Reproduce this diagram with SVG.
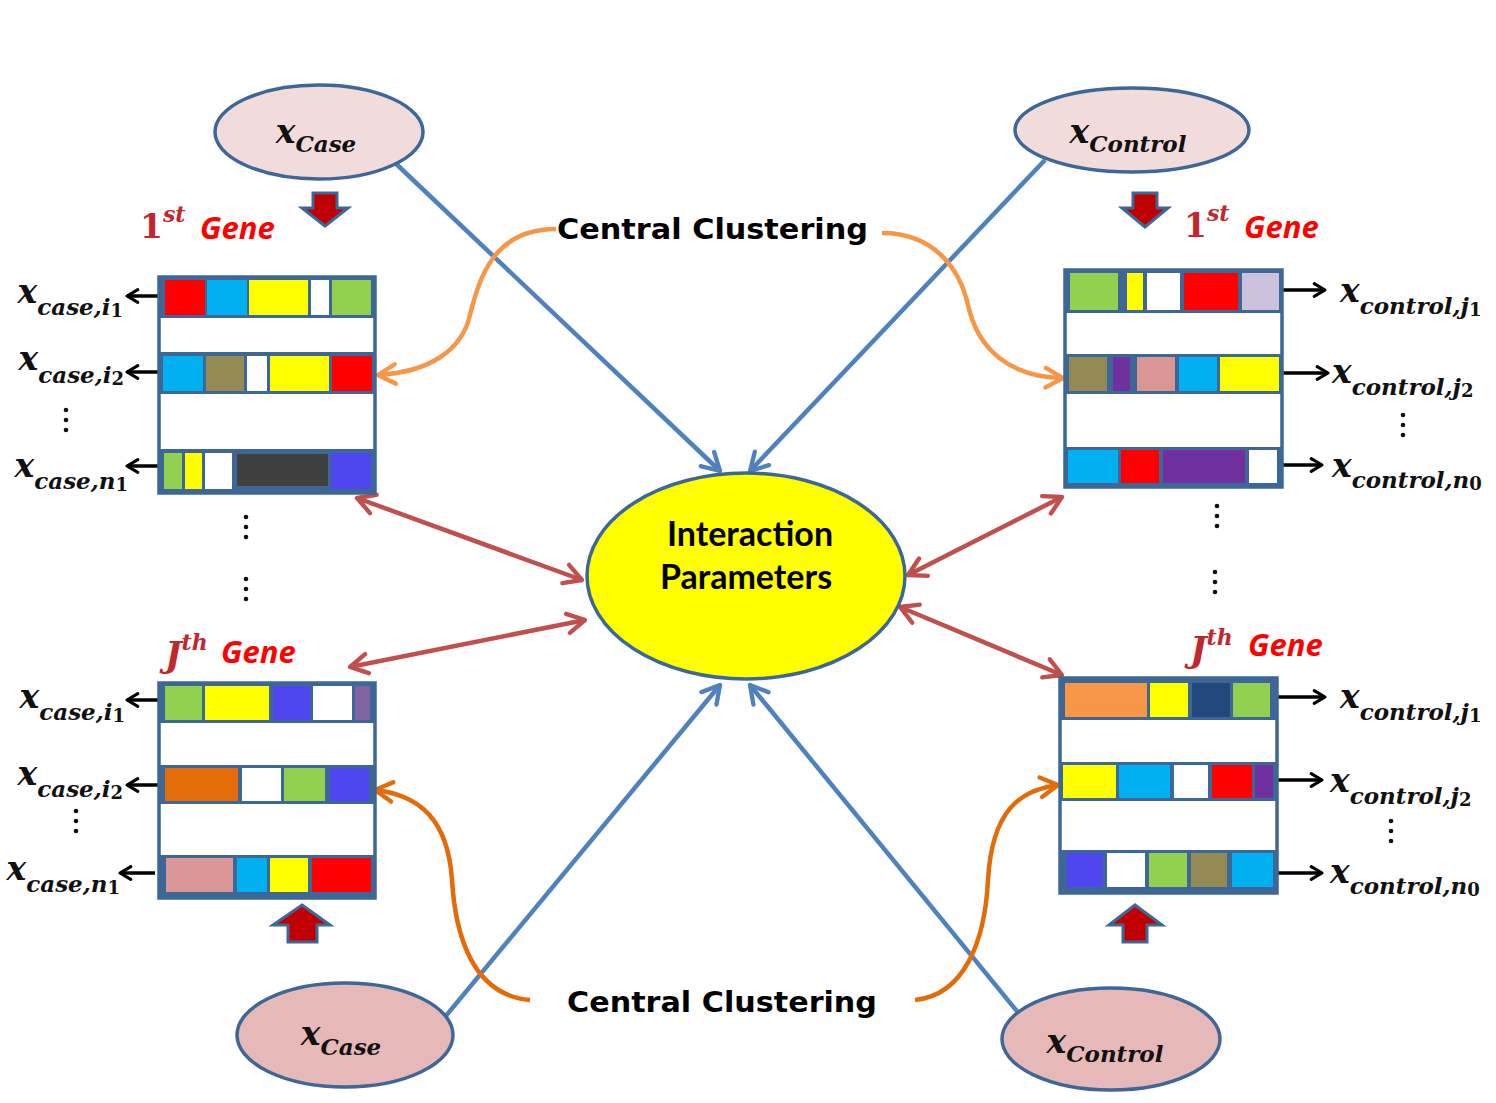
<svg xmlns="http://www.w3.org/2000/svg" width="1496" height="1103" viewBox="0 0 1496 1103">
<style>
.bg{fill:#ffffff}
.box{fill:#ffffff;stroke:#3d6797;stroke-width:3.5}
.band{fill:#3d6797}
.lab{font-family:"DejaVu Serif",serif;font-weight:bold;font-style:italic;fill:#111}
.bx{font-size:33px}
.sb{font-size:23px}
.sb2{font-size:18px;font-style:normal}
.gene{font-family:"Open Sans","Liberation Sans",sans-serif;font-weight:bold;font-style:italic;font-size:31px;fill:#ff0000}
.ord{font-family:"DejaVu Serif",serif;font-weight:bold;fill:#c0282d}
.cc{font-family:"DejaVu Sans",sans-serif;font-weight:bold;font-size:29px;fill:#000}
.ip{font-family:"Lato","Open Sans",sans-serif;font-weight:bold;font-size:34px;fill:#000}
.ell{stroke:#3d6797;stroke-width:3.5}
.blue{stroke:#4f81bd;stroke-width:4.5;fill:none}
.red{stroke:#c0504d;stroke-width:4.5;fill:none}
.or1{stroke:#f79646;stroke-width:4.5;fill:none}
.or2{stroke:#e36c09;stroke-width:4.5;fill:none}
.blk{stroke:#000;stroke-width:3.5;fill:none}
.barr{fill:#c00000;stroke:#3d6797;stroke-width:3}
.dot{fill:#111}
</style>
<defs>
<marker id="mb" viewBox="0 0 24 24" refX="20" refY="12" markerWidth="26" markerHeight="26" markerUnits="userSpaceOnUse" orient="auto-start-reverse"><path d="M4,3 L20,12 L4,21" fill="none" stroke="#4f81bd" stroke-width="4" stroke-linecap="round" stroke-linejoin="round"/></marker>
<marker id="mr" viewBox="0 0 24 24" refX="20" refY="12" markerWidth="26" markerHeight="26" markerUnits="userSpaceOnUse" orient="auto-start-reverse"><path d="M4,3 L20,12 L4,21" fill="none" stroke="#c0504d" stroke-width="4" stroke-linecap="round" stroke-linejoin="round"/></marker>
<marker id="mo1" viewBox="0 0 24 24" refX="20" refY="12" markerWidth="26" markerHeight="26" markerUnits="userSpaceOnUse" orient="auto"><path d="M4,3 L20,12 L4,21" fill="none" stroke="#f79646" stroke-width="4" stroke-linecap="round" stroke-linejoin="round"/></marker>
<marker id="mo2" viewBox="0 0 24 24" refX="20" refY="12" markerWidth="26" markerHeight="26" markerUnits="userSpaceOnUse" orient="auto"><path d="M4,3 L20,12 L4,21" fill="none" stroke="#e36c09" stroke-width="4" stroke-linecap="round" stroke-linejoin="round"/></marker>
<marker id="mk" viewBox="0 0 20 20" refX="16" refY="10" markerWidth="18" markerHeight="18" markerUnits="userSpaceOnUse" orient="auto"><path d="M4,3 L16,10 L4,17" fill="none" stroke="#000" stroke-width="3.5" stroke-linecap="round" stroke-linejoin="round"/></marker>
</defs>
<rect class="bg" x="0" y="0" width="1496" height="1103"/>

<g id="connectors">
  <line class="blue" x1="392" y1="160" x2="720" y2="471" marker-end="url(#mb)"/>
  <line class="blue" x1="1045" y1="160" x2="750" y2="471" marker-end="url(#mb)"/>
  <line class="blue" x1="445" y1="1017" x2="720" y2="685" marker-end="url(#mb)"/>
  <line class="blue" x1="1020" y1="1015" x2="750" y2="685" marker-end="url(#mb)"/>
  <line class="red" x1="357" y1="498" x2="582" y2="580" marker-start="url(#mr)" marker-end="url(#mr)"/>
  <line class="red" x1="350" y1="667" x2="585" y2="620" marker-start="url(#mr)" marker-end="url(#mr)"/>
  <line class="red" x1="1062" y1="497" x2="908" y2="575" marker-start="url(#mr)" marker-end="url(#mr)"/>
  <line class="red" x1="900" y1="607" x2="1062" y2="675" marker-start="url(#mr)" marker-end="url(#mr)"/>
  <path class="or1" d="M556,229 C495,229 480,275 470,315 C462,350 430,372 378,375" marker-end="url(#mo1)"/>
  <path class="or1" d="M882,233 C935,233 960,270 968,305 C978,350 1010,377 1063,378" marker-end="url(#mo1)"/>
  <path class="or2" d="M530,1000 C470,995 455,930 452,880 C448,820 420,795 375,790" marker-end="url(#mo2)"/>
  <path class="or2" d="M915,1000 C965,995 985,940 988,880 C992,810 1020,790 1058,785" marker-end="url(#mo2)"/>
  <line class="blk" x1="160" y1="296" x2="127" y2="296" marker-end="url(#mk)"/>
  <line class="blk" x1="160" y1="372" x2="127" y2="372" marker-end="url(#mk)"/>
  <line class="blk" x1="160" y1="466" x2="127" y2="466" marker-end="url(#mk)"/>
  <line class="blk" x1="160" y1="700" x2="127" y2="700" marker-end="url(#mk)"/>
  <line class="blk" x1="160" y1="785" x2="127" y2="785" marker-end="url(#mk)"/>
  <line class="blk" x1="155" y1="873" x2="120" y2="873" marker-end="url(#mk)"/>
  <line class="blk" x1="1282" y1="290" x2="1325" y2="290" marker-end="url(#mk)"/>
  <line class="blk" x1="1282" y1="373" x2="1328" y2="373" marker-end="url(#mk)"/>
  <line class="blk" x1="1277" y1="465" x2="1322" y2="465" marker-end="url(#mk)"/>
  <line class="blk" x1="1277" y1="697" x2="1325" y2="697" marker-end="url(#mk)"/>
  <line class="blk" x1="1277" y1="780" x2="1322" y2="780" marker-end="url(#mk)"/>
  <line class="blk" x1="1277" y1="873" x2="1322" y2="873" marker-end="url(#mk)"/>
  <polygon class="barr" points="313,193 337,193 337,208 348,208 325,226 302,208 313,208"/>
  <polygon class="barr" points="1133,193 1157,193 1157,208 1168,208 1145,227 1122,208 1133,208"/>
  <polygon class="barr" points="302,905 330,925 317,925 317,942 288,942 288,925 273,925"/>
  <polygon class="barr" points="1135,905 1162,925 1147,925 1147,942 1123,942 1123,925 1109,925"/>
</g>

<g id="case-top">
  <ellipse class="ell" cx="319" cy="132" rx="104" ry="47" fill="#f2dcdb"/>
  <text class="lab" x="316" y="143" text-anchor="middle"><tspan class="bx">x</tspan><tspan class="sb" dy="9">Case</tspan></text>
</g>
<g id="control-top">
  <ellipse class="ell" cx="1132" cy="130" rx="117" ry="42" fill="#f2dcdb"/>
  <text class="lab" x="1128" y="143" text-anchor="middle"><tspan class="bx">x</tspan><tspan class="sb" dy="9">Control</tspan></text>
</g>
<g id="case-bottom">
  <ellipse class="ell" cx="345" cy="1035" rx="108" ry="52" fill="#e6b9b8"/>
  <text class="lab" x="341" y="1045" text-anchor="middle"><tspan class="bx">x</tspan><tspan class="sb" dy="10">Case</tspan></text>
</g>
<g id="control-bottom">
  <ellipse class="ell" cx="1111" cy="1039" rx="109" ry="51" fill="#e6b9b8"/>
  <text class="lab" x="1105" y="1053" text-anchor="middle"><tspan class="bx">x</tspan><tspan class="sb" dy="9">Control</tspan></text>
</g>
<g id="interaction">
  <ellipse class="ell" cx="746" cy="576" rx="159" ry="103" fill="#ffff00"/>
  <text class="ip" x="750" y="546" text-anchor="middle">Interaction</text>
  <text class="ip" x="746" y="589" text-anchor="middle">Parameters</text>
</g>

<g id="clustering-labels">
  <text class="cc" x="557" y="239" textLength="311" lengthAdjust="spacingAndGlyphs">Central Clustering</text>
  <text class="cc" x="567" y="1012" textLength="310" lengthAdjust="spacingAndGlyphs">Central Clustering</text>
</g>

<g id="gene-labels">
  <text x="140" y="238"><tspan class="ord" font-size="33">1</tspan><tspan class="ord" font-size="22" font-style="italic" dy="-16">st</tspan></text>
  <text class="gene" x="200" y="239">Gene</text>
  <text x="1184" y="237"><tspan class="ord" font-size="33">1</tspan><tspan class="ord" font-size="22" font-style="italic" dy="-16">st</tspan></text>
  <text class="gene" x="1244" y="238">Gene</text>
  <text x="165" y="667"><tspan class="ord" font-size="35" font-style="italic">J</tspan><tspan class="ord" font-size="22" font-style="italic" dy="-17">th</tspan></text>
  <text class="gene" x="221" y="663">Gene</text>
  <text x="1190" y="662"><tspan class="ord" font-size="35" font-style="italic">J</tspan><tspan class="ord" font-size="22" font-style="italic" dy="-17">th</tspan></text>
  <text class="gene" x="1248" y="656">Gene</text>
</g>

<g id="gene1-case">
  <rect class="box" x="159" y="277" width="216" height="216"/>
  <rect class="band" x="159" y="276" width="216" height="42"/>
  <rect fill="#ff0000" x="165" y="280" width="40" height="35"/>
  <rect fill="#00b0f0" x="207" y="280" width="40" height="35"/>
  <rect fill="#ffff00" x="249" y="280" width="59" height="35"/>
  <rect fill="#ffffff" x="311" y="280" width="18" height="35"/>
  <rect fill="#92d050" x="332" y="280" width="39" height="35"/>
  <rect class="band" x="159" y="352" width="216" height="42"/>
  <rect fill="#00b0f0" x="163" y="356" width="40" height="35"/>
  <rect fill="#948a54" x="206" y="356" width="38" height="35"/>
  <rect fill="#ffffff" x="247" y="356" width="20" height="35"/>
  <rect fill="#ffff00" x="270" y="356" width="59" height="35"/>
  <rect fill="#ff0000" x="332" y="356" width="40" height="35"/>
  <rect class="band" x="159" y="449" width="216" height="44"/>
  <rect fill="#92d050" x="164" y="453" width="18" height="36"/>
  <rect fill="#ffff00" x="185" y="453" width="17" height="36"/>
  <rect fill="#ffffff" x="205" y="453" width="27" height="36"/>
  <rect fill="#404040" x="237" y="454" width="91" height="32"/>
  <rect fill="#4f46f0" x="331" y="453" width="40" height="36"/>
  <text class="lab" x="123" y="303" text-anchor="end"><tspan class="bx">x</tspan><tspan class="sb" dy="12">case,i</tspan><tspan class="sb2" dy="2">1</tspan></text>
  <text class="lab" x="124" y="370" text-anchor="end"><tspan class="bx">x</tspan><tspan class="sb" dy="13">case,i</tspan><tspan class="sb2" dy="2">2</tspan></text>
  <text class="lab" x="128" y="477" text-anchor="end"><tspan class="bx">x</tspan><tspan class="sb" dy="12">case,n</tspan><tspan class="sb2" dy="2">1</tspan></text>
</g>

<g id="gene1-control">
  <rect class="box" x="1065" y="270" width="217" height="217"/>
  <rect class="band" x="1065" y="270" width="217" height="43"/>
  <rect fill="#92d050" x="1070" y="273" width="48" height="37"/>
  <rect fill="#ffff00" x="1127" y="273" width="16" height="37"/>
  <rect fill="#ffffff" x="1147" y="273" width="33" height="37"/>
  <rect fill="#ff0000" x="1184" y="273" width="54" height="37"/>
  <rect fill="#ccc0da" x="1242" y="273" width="37" height="37"/>
  <rect class="band" x="1065" y="354" width="217" height="40"/>
  <rect fill="#948a54" x="1069" y="357" width="38" height="34"/>
  <rect fill="#7030a0" x="1113" y="357" width="17" height="34"/>
  <rect fill="#da9694" x="1137" y="357" width="38" height="34"/>
  <rect fill="#00b0f0" x="1179" y="357" width="38" height="34"/>
  <rect fill="#ffff00" x="1220" y="357" width="59" height="34"/>
  <rect class="band" x="1065" y="447" width="217" height="40"/>
  <rect fill="#00b0f0" x="1068" y="450" width="50" height="33"/>
  <rect fill="#ff0000" x="1121" y="450" width="38" height="33"/>
  <rect fill="#7030a0" x="1163" y="450" width="82" height="33"/>
  <rect fill="#ffffff" x="1249" y="450" width="28" height="33"/>
  <text class="lab" x="1340" y="302"><tspan class="bx">x</tspan><tspan class="sb" dy="12">control,j</tspan><tspan class="sb2" dy="2">1</tspan></text>
  <text class="lab" x="1332" y="383"><tspan class="bx">x</tspan><tspan class="sb" dy="12">control,j</tspan><tspan class="sb2" dy="2">2</tspan></text>
  <text class="lab" x="1332" y="477"><tspan class="bx">x</tspan><tspan class="sb" dy="11">control,n</tspan><tspan class="sb2" dy="2">0</tspan></text>
</g>

<g id="geneJ-case">
  <rect class="box" x="159" y="683" width="216" height="215"/>
  <rect class="band" x="159" y="683" width="216" height="40"/>
  <rect fill="#92d050" x="165" y="686" width="37" height="34"/>
  <rect fill="#ffff00" x="205" y="686" width="64" height="34"/>
  <rect fill="#4f46f0" x="273" y="686" width="37" height="34"/>
  <rect fill="#ffffff" x="313" y="686" width="39" height="34"/>
  <rect fill="#8064a2" x="355" y="686" width="15" height="34"/>
  <rect class="band" x="159" y="765" width="216" height="39"/>
  <rect fill="#e36c09" x="165" y="768" width="73" height="33"/>
  <rect fill="#ffffff" x="242" y="768" width="39" height="33"/>
  <rect fill="#92d050" x="284" y="768" width="41" height="33"/>
  <rect fill="#4f46f0" x="330" y="768" width="39" height="33"/>
  <rect class="band" x="159" y="855" width="216" height="43"/>
  <rect fill="#da9694" x="166" y="858" width="67" height="34"/>
  <rect fill="#00b0f0" x="237" y="858" width="30" height="34"/>
  <rect fill="#ffff00" x="270" y="858" width="38" height="34"/>
  <rect fill="#ff0000" x="312" y="858" width="59" height="34"/>
  <text class="lab" x="125" y="708" text-anchor="end"><tspan class="bx">x</tspan><tspan class="sb" dy="12">case,i</tspan><tspan class="sb2" dy="2">1</tspan></text>
  <text class="lab" x="123" y="785" text-anchor="end"><tspan class="bx">x</tspan><tspan class="sb" dy="12">case,i</tspan><tspan class="sb2" dy="2">2</tspan></text>
  <text class="lab" x="120" y="880" text-anchor="end"><tspan class="bx">x</tspan><tspan class="sb" dy="12">case,n</tspan><tspan class="sb2" dy="2">1</tspan></text>
</g>

<g id="geneJ-control">
  <rect class="box" x="1060" y="678" width="217" height="215"/>
  <rect class="band" x="1060" y="679" width="217" height="41"/>
  <rect fill="#f79646" x="1065" y="683" width="82" height="34"/>
  <rect fill="#ffff00" x="1150" y="683" width="38" height="34"/>
  <rect fill="#1f497d" x="1192" y="683" width="38" height="34"/>
  <rect fill="#92d050" x="1233" y="683" width="37" height="34"/>
  <rect class="band" x="1060" y="762" width="217" height="39"/>
  <rect fill="#ffff00" x="1063" y="765" width="53" height="33"/>
  <rect fill="#00b0f0" x="1119" y="765" width="51" height="33"/>
  <rect fill="#ffffff" x="1174" y="765" width="34" height="33"/>
  <rect fill="#ff0000" x="1212" y="765" width="40" height="33"/>
  <rect fill="#7030a0" x="1255" y="765" width="18" height="33"/>
  <rect class="band" x="1060" y="850" width="217" height="43"/>
  <rect fill="#4f46f0" x="1067" y="853" width="36" height="34"/>
  <rect fill="#ffffff" x="1107" y="853" width="38" height="34"/>
  <rect fill="#92d050" x="1149" y="853" width="38" height="34"/>
  <rect fill="#948a54" x="1191" y="853" width="36" height="34"/>
  <rect fill="#00b0f0" x="1232" y="853" width="41" height="34"/>
  <text class="lab" x="1340" y="708"><tspan class="bx">x</tspan><tspan class="sb" dy="12">control,j</tspan><tspan class="sb2" dy="2">1</tspan></text>
  <text class="lab" x="1330" y="792"><tspan class="bx">x</tspan><tspan class="sb" dy="12">control,j</tspan><tspan class="sb2" dy="2">2</tspan></text>
  <text class="lab" x="1330" y="883"><tspan class="bx">x</tspan><tspan class="sb" dy="11">control,n</tspan><tspan class="sb2" dy="2">0</tspan></text>
</g>

<g id="ellipsis-dots">
  <circle class="dot" cx="66" cy="410" r="2.3"/><circle class="dot" cx="66" cy="420" r="2.3"/><circle class="dot" cx="66" cy="430" r="2.3"/>
  <circle class="dot" cx="246" cy="517" r="2.3"/><circle class="dot" cx="246" cy="527" r="2.3"/><circle class="dot" cx="246" cy="537" r="2.3"/>
  <circle class="dot" cx="246" cy="579" r="2.3"/><circle class="dot" cx="246" cy="589" r="2.3"/><circle class="dot" cx="246" cy="599" r="2.3"/>
  <circle class="dot" cx="1403" cy="415" r="2.3"/><circle class="dot" cx="1403" cy="425" r="2.3"/><circle class="dot" cx="1403" cy="435" r="2.3"/>
  <circle class="dot" cx="1217" cy="506" r="2.3"/><circle class="dot" cx="1217" cy="516" r="2.3"/><circle class="dot" cx="1217" cy="526" r="2.3"/>
  <circle class="dot" cx="1215" cy="572" r="2.3"/><circle class="dot" cx="1215" cy="582" r="2.3"/><circle class="dot" cx="1215" cy="592" r="2.3"/>
  <circle class="dot" cx="76" cy="811" r="2.3"/><circle class="dot" cx="76" cy="821" r="2.3"/><circle class="dot" cx="76" cy="831" r="2.3"/>
  <circle class="dot" cx="1391" cy="821" r="2.3"/><circle class="dot" cx="1391" cy="831" r="2.3"/><circle class="dot" cx="1391" cy="841" r="2.3"/>
</g>
</svg>
